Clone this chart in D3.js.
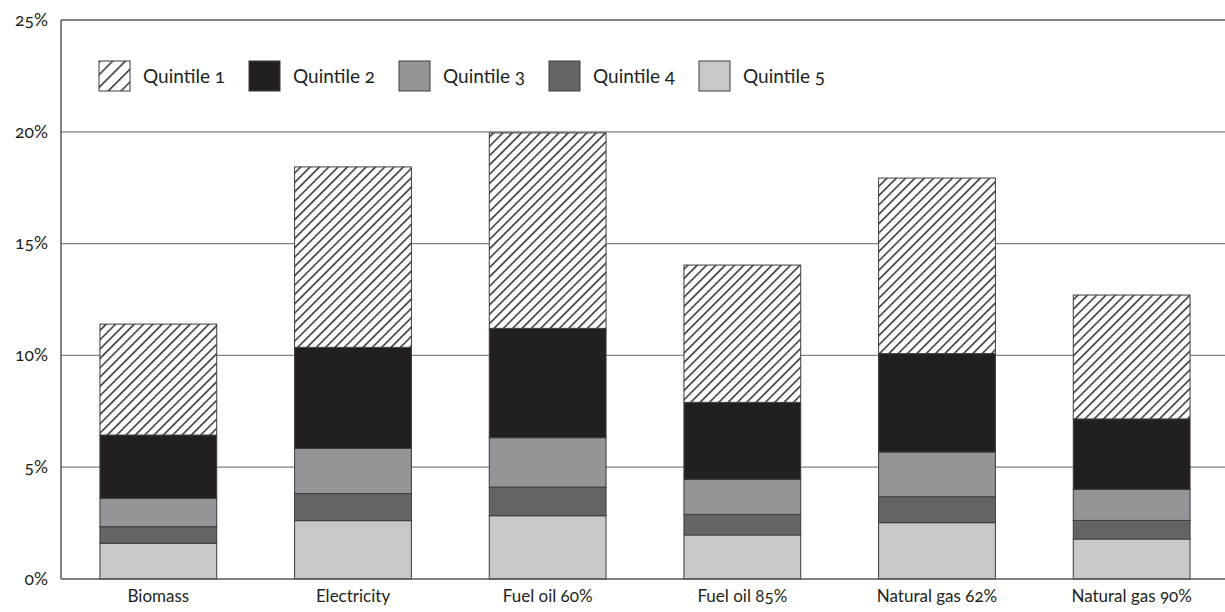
<!DOCTYPE html>
<html><head><meta charset="utf-8">
<script src="https://cdn.jsdelivr.net/npm/d3@7"></script>
<style>
body{margin:0;background:#fff;}
svg text{font-family:Lato,"Open Sans",sans-serif;font-variant-numeric:oldstyle-nums;font-feature-settings:"onum" 1;fill:#231f20;}
</style></head><body>
<svg id="c" width="1225" height="612"></svg>
<script>
const categories = ["Biomass","Electricity","Fuel oil 60%","Fuel oil 85%","Natural gas 62%","Natural gas 90%"];
const seriesNames = ["Quintile 1","Quintile 2","Quintile 3","Quintile 4","Quintile 5"];
// values in percent
const quintile5 = [1.60, 2.61, 2.83, 1.97, 2.52, 1.79];
const quintile4 = [0.74, 1.21, 1.28, 0.92, 1.16, 0.83];
const quintile3 = [1.27, 2.02, 2.21, 1.57, 2.00, 1.39];
const quintile2 = [2.83, 4.52, 4.89, 3.44, 4.40, 3.15];
const quintile1 = [4.96, 8.07, 8.74, 6.14, 7.85, 5.54];
const yTicks = [0, 5, 10, 15, 20, 25];

(function(){
const svg = d3.select("#c");
const W = 1225, mLeft = 61, mTop = 20, mBottom = 579;
const x = d3.scaleBand().domain(categories).range([mLeft, 1229]).paddingInner(0.4).paddingOuter(0.2);
const y = d3.scaleLinear().domain([0, 25]).range([mBottom, mTop]);

const defs = svg.append("defs");
function hatch(id, s){
  const p = defs.append("pattern").attr("id",id).attr("patternUnits","userSpaceOnUse")
    .attr("width",s).attr("height",s).attr("patternTransform","rotate(45)");
  p.append("rect").attr("width",s).attr("height",s).attr("fill","#fff");
  p.append("line").attr("x1",0.7).attr("y1",0).attr("x2",0.7).attr("y2",s).attr("stroke","#231f20").attr("stroke-width",1.4);
}
hatch("hatch",6.6);
hatch("hatchL",9);

const fills = {"Quintile 1":"url(#hatch)","Quintile 2":"#231f20","Quintile 3":"#939598","Quintile 4":"#636466","Quintile 5":"#c7c8ca"};
const legFills = Object.assign({}, fills, {"Quintile 1":"url(#hatchL)"});

svg.append("g").selectAll("line").data(yTicks.filter(t=>t>0 && t<25)).join("line")
  .attr("x1",mLeft).attr("x2",W).attr("y1",d=>y(d)).attr("y2",d=>y(d))
  .attr("stroke","#808285").attr("stroke-width",1.2);

const table = categories.map((c,i)=>({cat:c,"Quintile 5":quintile5[i],"Quintile 4":quintile4[i],"Quintile 3":quintile3[i],"Quintile 2":quintile2[i],"Quintile 1":quintile1[i]}));
const stackOrder = ["Quintile 5","Quintile 4","Quintile 3","Quintile 2","Quintile 1"];
const stacked = d3.stack().keys(stackOrder)(table);

svg.append("g").selectAll("g").data(stacked).join("g")
  .attr("fill",d=>fills[d.key])
  .selectAll("rect").data(d=>d).join("rect")
  .attr("x",d=>x(d.data.cat)).attr("width",x.bandwidth())
  .attr("y",d=>y(d[1])).attr("height",d=>y(d[0])-y(d[1]))
  .attr("stroke","#3c3c3e").attr("stroke-width",1);

svg.append("line").attr("x1",mLeft).attr("x2",mLeft).attr("y1",mTop).attr("y2",mBottom).attr("stroke","#58595b").attr("stroke-width",1.5);
svg.append("line").attr("x1",mLeft).attr("x2",W).attr("y1",mTop).attr("y2",mTop).attr("stroke","#58595b").attr("stroke-width",1.5);
svg.append("line").attr("x1",mLeft).attr("x2",W).attr("y1",mBottom).attr("y2",mBottom).attr("stroke","#58595b").attr("stroke-width",1.5);

const yAxis = d3.axisLeft(y).tickValues(yTicks).tickFormat(d=>d+"%").tickSize(0).tickPadding(13);
const ya = svg.append("g").attr("transform",`translate(${mLeft},0)`).call(yAxis);
ya.select(".domain").remove();
ya.selectAll("text").attr("font-size",17.5).attr("font-family","Lato,sans-serif").attr("fill","#231f20").attr("dy","0.3em");

const xAxis = d3.axisBottom(x).tickSize(0).tickPadding(11);
const xa = svg.append("g").attr("transform",`translate(0,${mBottom})`).call(xAxis);
xa.select(".domain").remove();
xa.selectAll("text").attr("font-size",17).attr("font-family","Lato,sans-serif").attr("fill","#231f20");

const leg = svg.append("g").selectAll("g").data(seriesNames).join("g")
  .attr("transform",(d,i)=>`translate(${99+i*150},61)`);
leg.append("rect").attr("width",31).attr("height",30).attr("fill",d=>legFills[d]).attr("stroke","#3c3c3e").attr("stroke-width",1);
leg.append("text").attr("x",44).attr("y",22).attr("font-size",19).text(d=>d);
})();
</script></body></html>
